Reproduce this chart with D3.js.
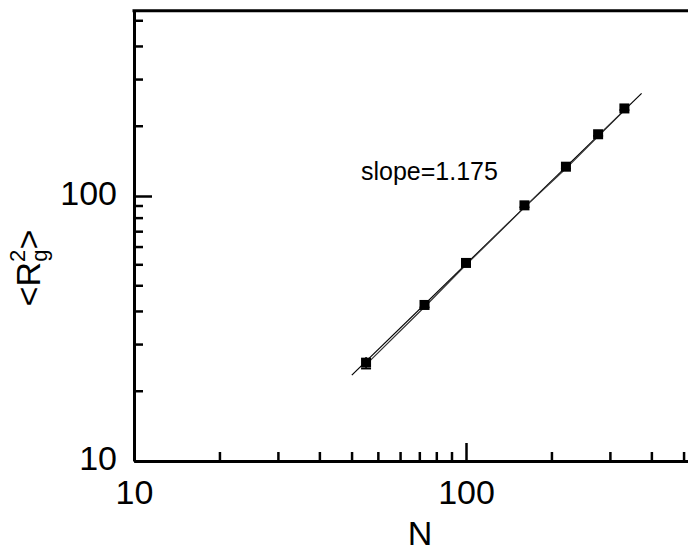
<!DOCTYPE html>
<html>
<head>
<meta charset="utf-8">
<script src="https://cdn.jsdelivr.net/npm/d3@7"></script>
<style>
  body { margin: 0; background: #fff; }
  svg { display: block; font-family: "Liberation Sans", Arial, sans-serif; }
</style>
</head>
<body>
<svg id="chart" width="688" height="548"></svg>
<script>
// chain length N vs mean squared radius of gyration
const N = [50, 75, 100, 150, 200, 250, 300];
const Rg2 = [23.5, 38.8, 55.9, 92.2, 129, 171, 214];
const Rg2Err = [1.2, 0.8, 1.0, 1.5, 2, 2.5, 3];

// fitted power law, end points as drawn
const fitN = [45.3, 338];
const fitRg2 = [21.1, 244];

const xMajorTicks = [10, 100];
const yMajorTicks = [10, 100];
const xMinorTicks = [20, 30, 40, 50, 60, 70, 80, 90, 100, 200, 300, 400, 500];
const yMinorTicks = [20, 30, 40, 50, 60, 70, 80, 90, 100, 200, 300, 400, 500];

const slopeText = 'slope=1.175';

const svg = d3.select('#chart');

const x = d3.scaleLog().domain([10, 600]).range([134, 134 + 332 * Math.log10(60)]);
const y = d3.scaleLog().domain([10, 500]).range([461, 461 - 265 * Math.log10(50)]);

const axisWidth = 3;
const labelSize = 34;

// minor ticks sit a little off the major grid in the original figure
const minorShiftX = -14;
const minorShiftY = 10;

// bottom axis
const xAxis = svg.append('g')
  .attr('transform', `translate(0, ${y(10)})`)
  .call(d3.axisBottom(x)
    .tickValues(xMajorTicks)
    .tickSizeInner(-18)
    .tickSizeOuter(0)
    .tickPadding(19)
    .tickFormat(d3.format('d')));
xAxis.select('.domain').attr('stroke-width', axisWidth);
xAxis.selectAll('.tick line').attr('stroke-width', 2.5);
xAxis.selectAll('.tick text')
  .attr('font-size', labelSize)
  .attr('font-family', '"Liberation Sans", Arial, sans-serif')
  .attr('fill', '#000');

svg.append('g')
  .attr('transform', `translate(${minorShiftX}, ${y(10)})`)
  .selectAll('line')
  .data(xMinorTicks)
  .enter()
  .append('line')
  .attr('x1', d => x(d))
  .attr('x2', d => x(d))
  .attr('y1', 0)
  .attr('y2', -9)
  .attr('stroke', '#000')
  .attr('stroke-width', 2.5);

// left axis
const yAxis = svg.append('g')
  .attr('transform', `translate(${x(10)}, 0)`)
  .call(d3.axisLeft(y)
    .tickValues(yMajorTicks)
    .tickSizeInner(-18)
    .tickSizeOuter(0)
    .tickPadding(17)
    .tickFormat(d3.format('d')));
yAxis.select('.domain').attr('stroke-width', axisWidth);
yAxis.selectAll('.tick line').attr('stroke-width', 2.5);
yAxis.selectAll('.tick text')
  .attr('font-size', labelSize)
  .attr('dy', '0.24em')
  .attr('font-family', '"Liberation Sans", Arial, sans-serif')
  .attr('fill', '#000');

svg.append('g')
  .attr('transform', `translate(${x(10)}, ${minorShiftY})`)
  .selectAll('line')
  .data(yMinorTicks)
  .enter()
  .append('line')
  .attr('x1', 0)
  .attr('x2', 9)
  .attr('y1', d => y(d))
  .attr('y2', d => y(d))
  .attr('stroke', '#000')
  .attr('stroke-width', 2.5);

// top frame line
svg.append('line')
  .attr('x1', x(10) - axisWidth / 2)
  .attr('x2', x(600))
  .attr('y1', y(500))
  .attr('y2', y(500))
  .attr('stroke', '#000')
  .attr('stroke-width', axisWidth);

// axis titles
svg.append('text')
  .attr('x', 420)
  .attr('y', 545)
  .attr('text-anchor', 'middle')
  .attr('font-size', labelSize)
  .text('N');

const yTitle = svg.append('text')
  .attr('transform', 'translate(40, 268) rotate(-90)')
  .attr('text-anchor', 'middle')
  .attr('font-size', labelSize);
yTitle.append('tspan').text('<R');
yTitle.append('tspan').attr('font-size', 22).attr('dy', -15).text('2');
yTitle.append('tspan').attr('font-size', 22).attr('dx', -12).attr('dy', 22).text('g');
yTitle.append('tspan').attr('dy', -7).text('>');

// fit line
const line = d3.line().x(d => x(d[0])).y(d => y(d[1]));
svg.append('path')
  .datum(d3.zip(fitN, fitRg2))
  .attr('d', line)
  .attr('fill', 'none')
  .attr('stroke', '#000')
  .attr('stroke-width', 1.2);

// connecting line through the data
svg.append('path')
  .datum(d3.zip(N, Rg2))
  .attr('transform', 'translate(1, 1)')
  .attr('d', line)
  .attr('fill', 'none')
  .attr('stroke', '#333')
  .attr('stroke-width', 1.2);

// error bars
const pts = d3.zip(N, Rg2, Rg2Err);
const err = svg.append('g').attr('stroke', '#000').attr('stroke-width', 1.5);
err.selectAll('line.bar')
  .data(pts)
  .enter()
  .append('line')
  .attr('x1', d => x(d[0]))
  .attr('x2', d => x(d[0]))
  .attr('y1', d => y(d[1] - d[2]))
  .attr('y2', d => y(d[1] + d[2]));
err.selectAll('line.cap')
  .data(pts)
  .enter()
  .append('line')
  .attr('x1', d => x(d[0]) - 5)
  .attr('x2', d => x(d[0]) + 5)
  .attr('y1', d => y(d[1] - d[2]))
  .attr('y2', d => y(d[1] - d[2]));

// markers
const size = 10;
svg.append('g')
  .selectAll('rect')
  .data(pts)
  .enter()
  .append('rect')
  .attr('x', d => x(d[0]) - size / 2)
  .attr('y', d => y(d[1]) - size / 2)
  .attr('width', size)
  .attr('height', size)
  .attr('fill', '#000');

svg.append('text')
  .attr('x', 361)
  .attr('y', 180)
  .attr('font-size', 25)
  .text(slopeText);
</script>
</body>
</html>
